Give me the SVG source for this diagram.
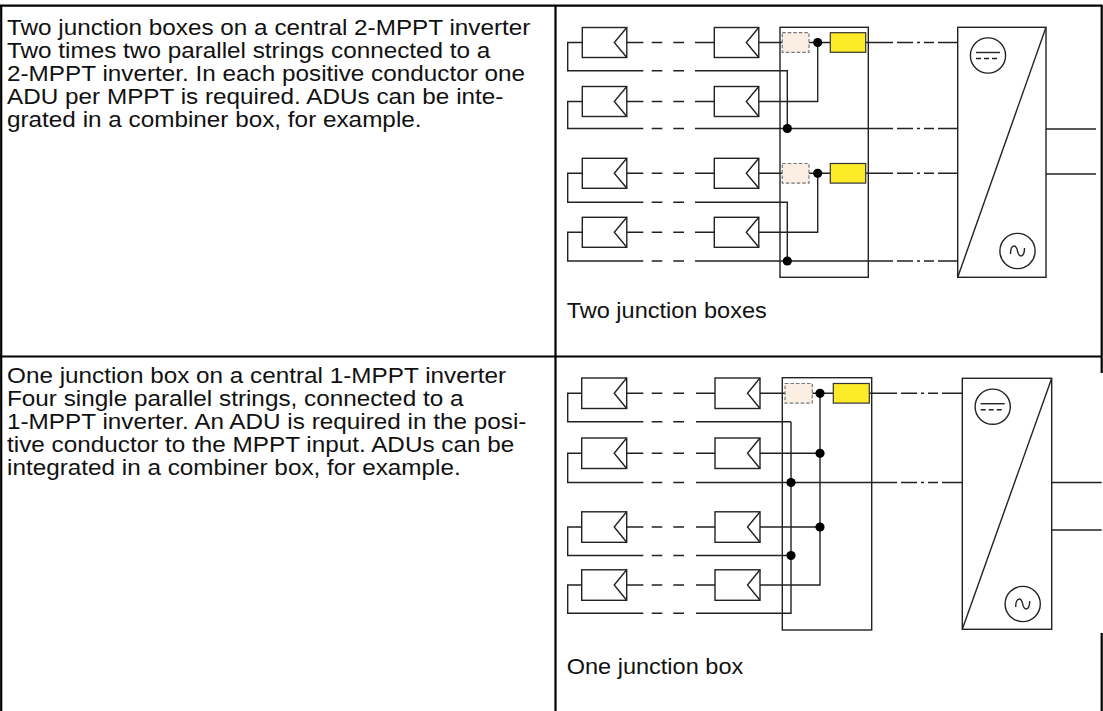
<svg xmlns="http://www.w3.org/2000/svg" xmlns:xlink="http://www.w3.org/1999/xlink" width="1103" height="711" viewBox="0 0 1103 711">
<style>
.frame{fill:none;stroke:#000;stroke-width:2.2}
.w{fill:none;stroke:#222;stroke-width:1.4}
.box{fill:#fff;stroke:#222;stroke-width:1.4}
.adu{fill:#fbeee2;stroke:#777;stroke-width:1.2;stroke-dasharray:3.5 2}
.yel{fill:#fdeb2a;stroke:#333;stroke-width:1.2}
.dot{fill:#000}
.txt{font-family:"Liberation Sans",Arial,sans-serif;font-size:21.5px;fill:#111}
.dash{stroke-dasharray:5 3}
</style>
<defs>
<g id="pv"><rect class="box" x="0" y="0" width="44.5" height="30"/><polyline class="w" points="44.5,0 32,15 44.5,30"/></g>
<g id="pvb"><rect class="box" x="0" y="0" width="45" height="30.5"/><polyline class="w" points="45,0 32.5,15.25 45,30.5"/></g>
<g id="dc"><circle class="box" r="17.6"/><path class="w" d="M-12,-3 H12"/><path class="w dash" d="M-12,3 H12"/></g>
<g id="ac"><circle class="box" r="17.6"/><path class="w" d="M-7,3 C-7,-7 -1,-7 0,0 C1,7 7,7 7,-3"/></g>
</defs>

<g id="table">
<path class="frame" d="M0,5.7 H1102.7 M1.2,5 V711 M555.5,5 V711 M0,356.5 H1102.7 M1101.7,5 V373 M1101.7,633 V711"/>
</g>

<g id="text-top" class="txt" transform="scale(1.13,1)">
<text x="6.2" y="35">Two junction boxes on a central 2-MPPT inverter</text>
<text x="6.2" y="58">Two times two parallel strings connected to a</text>
<text x="6.2" y="81">2-MPPT inverter. In each positive conductor one</text>
<text x="6.2" y="104">ADU per MPPT is required. ADUs can be inte-</text>
<text x="6.2" y="127">grated in a combiner box, for example.</text>
</g>
<g id="text-bottom" class="txt" transform="scale(1.13,1)">
<text x="6.2" y="382.7">One junction box on a central 1-MPPT inverter</text>
<text x="6.2" y="405.7">Four single parallel strings, connected to a</text>
<text x="6.2" y="428.7">1-MPPT inverter. An ADU is required in the posi-</text>
<text x="6.2" y="451.7">tive conductor to the MPPT input. ADUs can be</text>
<text x="6.2" y="474.7">integrated in a combiner box, for example.</text>
</g>
<g id="label-top" class="txt" transform="scale(1.095,1)"><text x="517.5" y="318">Two junction boxes</text></g>
<g id="label-bottom" class="txt" transform="scale(1.095,1)"><text x="517.5" y="674">One junction box</text></g>

<!-- TOP DIAGRAM -->
<g id="connectors-top">
<path class="w" d="M626.8,42.5 H643.3 M651.7,42.5 H662.3 M673.3,42.5 H684 M695,42.5 H714.3
M626.8,101.5 H643.3 M651.7,101.5 H662.3 M673.3,101.5 H684 M695,101.5 H714.3
M626.8,173.3 H643.3 M651.7,173.3 H662.3 M673.3,173.3 H684 M695,173.3 H714.3
M626.8,232.3 H643.3 M651.7,232.3 H662.3 M673.3,232.3 H684 M695,232.3 H714.3"/>
<path class="w" d="M582.3,42.5 H567.7 V70.7 H643.3 M651.7,70.7 H662.3 M673.3,70.7 H684 M695,70.7 H787.3 V128.5"/>
<path class="w" d="M582.3,101.5 H567.7 V128.5 H643.3 M651.7,128.5 H662.3 M673.3,128.5 H684 M695,128.5 H893 M897,128.5 H913 M917,128.5 H920 M924,128.5 H934 M938,128.5 H957.7"/>
<path class="w" d="M582.3,173.3 H567.7 V202.3 H643.3 M651.7,202.3 H662.3 M673.3,202.3 H684 M695,202.3 H787.3 V261"/>
<path class="w" d="M582.3,232.3 H567.7 V261 H643.3 M651.7,261 H662.3 M673.3,261 H684 M695,261 H893 M897,261 H913 M917,261 H920 M924,261 H934 M938,261 H957.7"/>
<path class="w" d="M758.8,42.5 H782.3 M809,42.5 H830.3 M865.7,42.5 H893 M897,42.5 H913 M917,42.5 H920 M924,42.5 H934 M938,42.5 H957.7"/>
<path class="w" d="M758.8,101.5 H817.7 V42.5"/>
<path class="w" d="M758.8,173.3 H782.3 M809,173.3 H830.3 M865.7,173.3 H893 M897,173.3 H913 M917,173.3 H920 M924,173.3 H934 M938,173.3 H957.7"/>
<path class="w" d="M758.8,232.3 H817.7 V173.3"/>
<path class="w" d="M1046,129 H1096 M1046,174 H1096"/>
</g>

<g id="jb-top"><rect class="w" x="780" y="27.3" width="88.3" height="250"/></g>
<g id="pv-t1a"><use xlink:href="#pv" x="582.3" y="27.5"/></g>
<g id="pv-t1b"><use xlink:href="#pv" x="714.3" y="27.5"/></g>
<g id="pv-t2a"><use xlink:href="#pv" x="582.3" y="86.5"/></g>
<g id="pv-t2b"><use xlink:href="#pv" x="714.3" y="86.5"/></g>
<g id="pv-t3a"><use xlink:href="#pv" x="582.3" y="158.3"/></g>
<g id="pv-t3b"><use xlink:href="#pv" x="714.3" y="158.3"/></g>
<g id="pv-t4a"><use xlink:href="#pv" x="582.3" y="217.3"/></g>
<g id="pv-t4b"><use xlink:href="#pv" x="714.3" y="217.3"/></g>
<g id="adu-t1"><rect class="adu" x="782.3" y="32.7" width="26.7" height="19.6"/></g>
<g id="adu-t2"><rect class="adu" x="782.3" y="163.5" width="26.7" height="19.6"/></g>
<g id="fuse-t1"><rect class="yel" x="830.3" y="32.7" width="35.4" height="19.6"/></g>
<g id="fuse-t2"><rect class="yel" x="830.3" y="163.5" width="35.4" height="19.6"/></g>
<g id="dots-top">
<circle class="dot" cx="817.7" cy="42.5" r="4.6"/>
<circle class="dot" cx="787.3" cy="128.5" r="4.6"/>
<circle class="dot" cx="817.7" cy="173.3" r="4.6"/>
<circle class="dot" cx="787.3" cy="261" r="4.6"/>
</g>
<g id="inverter-top">
<rect class="box" x="957.7" y="27.3" width="88.3" height="250"/>
<path class="w" d="M957.7,277.3 L1046,27.3"/>
<use xlink:href="#dc" x="988" y="55.5"/>
<use xlink:href="#ac" x="1017.5" y="251"/>
</g>

<!-- BOTTOM DIAGRAM -->
<g id="connectors-bottom">
<path class="w" d="M626.7,393.3 H643.3 M651.7,393.3 H662.3 M673.3,393.3 H684 M696,393.3 H715
M626.7,453.3 H643.3 M651.7,453.3 H662.3 M673.3,453.3 H684 M696,453.3 H715
M626.7,527 H643.3 M651.7,527 H662.3 M673.3,527 H684 M696,527 H715
M626.7,585 H643.3 M651.7,585 H662.3 M673.3,585 H684 M696,585 H715"/>
<path class="w" d="M581.7,393.3 H567.7 V421.7 H643.3 M651.7,421.7 H662.3 M673.3,421.7 H684 M696,421.7 H791"/>
<path class="w" d="M581.7,453.3 H567.7 V482.5 H643.3 M651.7,482.5 H662.3 M673.3,482.5 H684 M696,482.5 H897 M901,482.5 H917 M921,482.5 H924 M928,482.5 H938 M942,482.5 H962.3"/>
<path class="w" d="M581.7,527 H567.7 V555.5 H643.3 M651.7,555.5 H662.3 M673.3,555.5 H684 M696,555.5 H791"/>
<path class="w" d="M581.7,585 H567.7 V613.3 H643.3 M651.7,613.3 H662.3 M673.3,613.3 H684 M696,613.3 H791 V421.7"/>
<path class="w" d="M760,393.3 H785 M812.3,393.3 H833.3 M869.3,393.3 H897 M901,393.3 H917 M921,393.3 H924 M928,393.3 H938 M942,393.3 H962.3"/>
<path class="w" d="M760,453.3 H820 M760,527 H820 M760,585 H820 V393.3"/>
<path class="w" d="M1051.7,482.5 H1101.7 M1051.7,530 H1101.7"/>
</g>

<g id="jb-bottom"><rect class="w" x="782.3" y="377.7" width="89.4" height="252.3"/></g>
<g id="pv-b1a"><use xlink:href="#pvb" x="581.7" y="378"/></g>
<g id="pv-b1b"><use xlink:href="#pvb" x="715" y="378"/></g>
<g id="pv-b2a"><use xlink:href="#pvb" x="581.7" y="438"/></g>
<g id="pv-b2b"><use xlink:href="#pvb" x="715" y="438"/></g>
<g id="pv-b3a"><use xlink:href="#pvb" x="581.7" y="511.8"/></g>
<g id="pv-b3b"><use xlink:href="#pvb" x="715" y="511.8"/></g>
<g id="pv-b4a"><use xlink:href="#pvb" x="581.7" y="569.8"/></g>
<g id="pv-b4b"><use xlink:href="#pvb" x="715" y="569.8"/></g>
<g id="adu-b1"><rect class="adu" x="785" y="383.5" width="27.3" height="19.6"/></g>
<g id="fuse-b1"><rect class="yel" x="833.3" y="383.5" width="36" height="19.6"/></g>
<g id="dots-bottom">
<circle class="dot" cx="820" cy="393.3" r="4.6"/>
<circle class="dot" cx="820" cy="453.3" r="4.6"/>
<circle class="dot" cx="820" cy="527" r="4.6"/>
<circle class="dot" cx="791" cy="482.5" r="4.6"/>
<circle class="dot" cx="791" cy="555.5" r="4.6"/>
</g>
<g id="inverter-bottom">
<rect class="box" x="962.3" y="378.3" width="89.4" height="251"/>
<path class="w" d="M962.3,629.3 L1051.7,378.3"/>
<use xlink:href="#dc" x="992.7" y="406.7"/>
<use xlink:href="#ac" x="1022.7" y="604"/>
</g>
</svg>
